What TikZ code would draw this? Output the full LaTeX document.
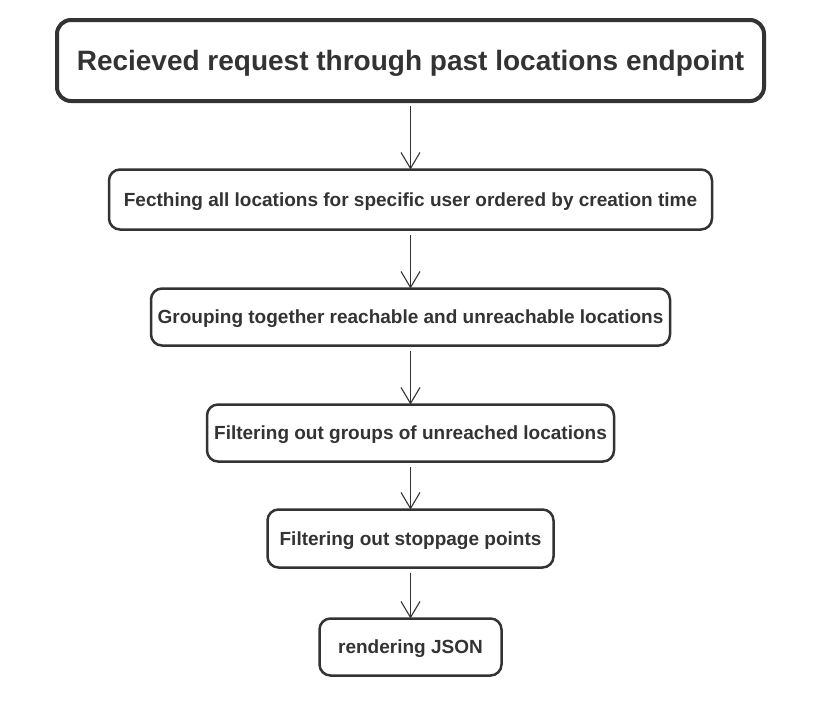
\documentclass[tikz,border=0pt]{standalone}
\usepackage{fontspec}
\setmainfont{Liberation Sans}
\usetikzlibrary{arrows.meta}
\definecolor{inkgray}{HTML}{333333}
\begin{document}
\begin{tikzpicture}[x=1pt,y=-1pt,
    stage/.style={draw=inkgray,line width=2.5pt,rounded corners=11pt,fill=white,
      inner sep=0pt,outer sep=0pt,text=inkgray,text height=13.6pt,text depth=0pt,
      font=\fontsize{19}{22}\selectfont\bfseries},
    flow/.style={draw=inkgray,line width=1.1pt,shorten <=5pt,
      -{Straight Barb[length=16pt,width=19pt,line width=1.1pt]}}]
                    \useasboundingbox (0,0) rectangle (822,704);

                    % Marking step recv
                    \node (recv) at (410.5,60.5) [stage,line width=4pt,rounded corners=14pt,
                      minimum width=707pt,minimum height=81pt,text height=20pt,
                      font=\fontsize{28}{32}\selectfont\bfseries]
                      {Recieved request through past locations endpoint};%

                    % Marking step fetch
                    \node (fetch) at (410.5,199.5) [stage,minimum width=603pt,minimum height=60pt]
                      {Fecthing all locations for specific user ordered by creation time};%

                    % Marking step group
                    \node (group) at (410.5,317) [stage,minimum width=519pt,minimum height=57pt]
                      {Grouping together reachable and unreachable locations};%

                    % Marking step unreached
                    \node (unreached) at (410.5,433) [stage,minimum width=407pt,minimum height=57pt]
                      {Filtering out groups of unreached locations};%

                    % Marking step stops
                    \node (stops) at (410.5,538.5) [stage,minimum width=286pt,minimum height=58pt]
                      {Filtering out stoppage points};%

                    % Marking step json
                    \node (json) at (410.5,647) [stage,minimum width=182pt,minimum height=57pt]
                      {rendering JSON};%

                    % Drawing arrows between steps
                    \draw [flow] (recv) -- (fetch);%
                    \draw [flow] (fetch) -- (group);%
                    \draw [flow] (group) -- (unreached);%
                    \draw [flow] (unreached) -- (stops);%
                    \draw [flow] (stops) -- (json);%
\end{tikzpicture}
\end{document}
